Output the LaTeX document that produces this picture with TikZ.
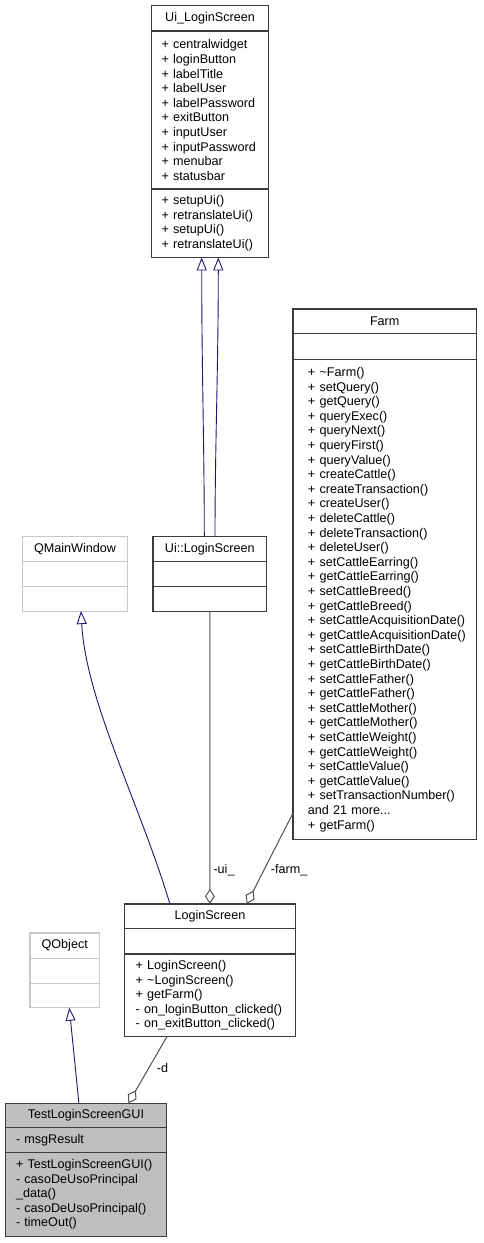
\documentclass[tikz,border=0pt]{standalone}
\usepackage{fontspec}
\setmainfont{Liberation Sans}
\usepackage{tikz}
\usetikzlibrary{arrows.meta, positioning}
\definecolor{cNavy}{RGB}{25,25,112}
\definecolor{cUse}{RGB}{80,80,80}
\definecolor{cBorder}{RGB}{60,60,60}
\definecolor{cExt}{RGB}{200,200,200}
\definecolor{cSel}{RGB}{191,191,191}
\newcommand{\umlfont}{\fontsize{12.6pt}{14.6pt}\selectfont\hyphenpenalty=10000\exhyphenpenalty=10000}
\tikzset{
	cls/.style    ={rectangle, draw=cBorder, line width=1.2pt, outer sep=0pt, inner xsep=10pt, inner ysep=0pt, font=\umlfont, text=black},
	clshead/.style={cls, align=center, anchor=north},
	clsbody/.style={cls, align=left, below=0pt of #1},
	extcls/.style ={draw=cExt},
	inherit/.style={-{Triangle[open, length=13pt, width=10pt]}, draw=cNavy, line width=0.9pt},
	usage/.style  ={-{Diamond[open, length=15pt, width=10pt]}, draw=cUse, line width=1pt},
	elabel/.style ={font=\umlfont, inner sep=0pt, anchor=west},
}

\begin{document}
\begin{tikzpicture}[x=1pt, y=-1pt]
	\useasboundingbox (0,0) rectangle (483,1243);
	% Ui_LoginScreen
	\node[clshead, minimum width=116.8pt, minimum height=25.4pt] (uif) at (210,5.6) {Ui\_LoginScreen};
	\node[clsbody=uif, text width=96.8pt, minimum height=158pt] (uifa) {+~centralwidget\\+~loginButton\\+~labelTitle\\+~labelUser\\+~labelPassword\\+~exitButton\\+~inputUser\\+~inputPassword\\+~menubar\\+~statusbar};
	\node[clsbody=uifa, text width=96.8pt, minimum height=68.4pt] (uifm) {+~setupUi()\\+~retranslateUi()\\+~setupUi()\\+~retranslateUi()};
	% Farm
	\node[clshead, minimum width=183.5pt, minimum height=24.4pt] (farm) at (384.7,308.9) {Farm};
	\node[clsbody=farm, inner xsep=15pt, text width=153.5pt, minimum height=26.2pt] (farma) {};
	\node[clsbody=farma, inner xsep=15pt, text width=153.5pt, minimum height=480pt] (farmm) {+~\textasciitilde{}Farm()\\+~setQuery()\\+~getQuery()\\+~queryExec()\\+~queryNext()\\+~queryFirst()\\+~queryValue()\\+~createCattle()\\+~createTransaction()\\+~createUser()\\+~deleteCattle()\\+~deleteTransaction()\\+~deleteUser()\\+~setCattleEarring()\\+~getCattleEarring()\\+~setCattleBreed()\\+~getCattleBreed()\\+~setCattleAcquisitionDate()\\+~getCattleAcquisitionDate()\\+~setCattleBirthDate()\\+~getCattleBirthDate()\\+~setCattleFather()\\+~getCattleFather()\\+~setCattleMother()\\+~getCattleMother()\\+~setCattleWeight()\\+~getCattleWeight()\\+~setCattleValue()\\+~getCattleValue()\\+~setTransactionNumber()\\and~21~more...\\+~getFarm()};
	% QMainWindow
	\node[clshead, extcls, minimum width=105.4pt, minimum height=25pt] (qmw) at (75,536.3) {QMainWindow};
	\node[clsbody=qmw, extcls, text width=85.4pt, minimum height=25.4pt] (qmwa) {};
	\node[clsbody=qmwa, extcls, text width=85.4pt, minimum height=24.4pt] (qmwm) {};
	% Ui::LoginScreen
	\node[clshead, minimum width=113.8pt, minimum height=25pt] (uis) at (209.8,536.3) {Ui::LoginScreen};
	\node[clsbody=uis, text width=93.8pt, minimum height=25.4pt] (uisa) {};
	\node[clsbody=uisa, text width=93.8pt, minimum height=24.4pt] (uism) {};
	% LoginScreen
	\node[clshead, minimum width=170.5pt, minimum height=24.4pt] (login) at (209.9,903.9) {LoginScreen};
	\node[clsbody=login, inner xsep=11pt, text width=148.5pt, minimum height=25.7pt] (logina) {};
	\node[clsbody=logina, inner xsep=11pt, text width=148.5pt, minimum height=82.7pt] (loginm) {+~LoginScreen()\\+~\textasciitilde{}LoginScreen()\\+~getFarm()\\-~on\_loginButton\_clicked()\\-~on\_exitButton\_clicked()};
	% QObject
	\node[clshead, extcls, minimum width=69.5pt, minimum height=25.4pt] (qobj) at (64.7,932.9) {QObject};
	\node[clsbody=qobj, extcls, text width=49.5pt, minimum height=25pt] (qobja) {};
	\node[clsbody=qobja, extcls, text width=49.5pt, minimum height=24.4pt] (qobjm) {};
	% TestLoginScreenGUI
	\node[clshead, fill=cSel, minimum width=160.5pt, minimum height=24pt] (test) at (85.9,1103.3) {TestLoginScreenGUI};
	\node[clsbody=test, fill=cSel, inner xsep=10.4pt, text width=139.7pt, minimum height=25.4pt] (testa) {-~msgResult};
	\node[clsbody=testa, fill=cSel, inner xsep=10.4pt, text width=139.7pt, minimum height=83.4pt] (testm) {+~TestLoginScreenGUI()\\-~casoDeUsoPrincipal\\\_data()\\-~casoDeUsoPrincipal()\\-~timeOut()};

	% inheritance
	\foreach \a/\b in {-5.5/-8.3, 5.2/8.3}
		\draw[inherit] ([xshift=\a pt]uis.north) .. controls +(0pt,90pt) and +(0pt,-110pt) .. ([xshift=\b pt]uifm.south);
	\draw[inherit] ([xshift=-40pt]login.north) .. controls +(-30pt,100pt) and +(5pt,-90pt) .. ([xshift=6pt]qmwm.south);
	\draw[inherit] ([xshift=-7pt]test.north) -- ([xshift=4.6pt]qobjm.south);
	% usage
	\draw[usage] (uism.south) -- (login.north);
	\draw[usage] ([yshift=-213.6pt]farmm.west) -- ([xshift=36.8pt]login.north);
	\draw[usage] ([xshift=-43pt]loginm.south) -- ([xshift=42.5pt]test.north);
	\node[elabel] (uilbl) at (213.3,870) {-ui\_};
	\node[elabel] (farmlbl) at (270.7,870) {-farm\_};
	\node[elabel] (dlbl) at (156.7,1068) {-d};
\end{tikzpicture}
\end{document}
